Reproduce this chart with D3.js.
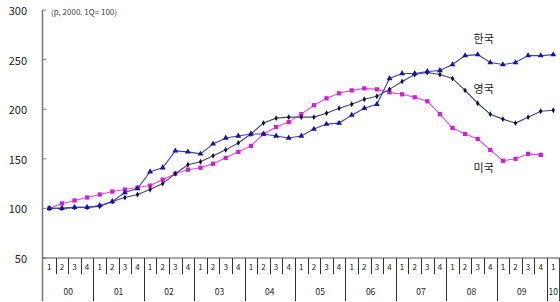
<!DOCTYPE html>
<html>
<head>
<meta charset="utf-8">
<script src="https://cdn.jsdelivr.net/npm/d3@7"></script>
<style>
  body { margin: 0; background: #fff; }
  svg { display: block; font-family: "Noto Sans CJK KR", "DejaVu Sans", sans-serif; }
</style>
</head>
<body>
<div id="chart"></div>
<script>
const years = ["00", "01", "02", "03", "04", "05", "06", "07", "08", "09", "10"];
const quarters = ["1", "2", "3", "4"];
const yTicks = [50, 100, 150, 200, 250, 300];

// index, 2000 Q1 = 100
const korea = [100, 100, 101, 101, 103, 107, 116, 120, 137, 141, 158, 157, 155, 165, 171, 173,
  175, 175, 173, 171, 173, 180, 185, 186, 194, 201, 205, 231, 236, 236, 238, 239,
  245, 254, 255, 247, 245, 247, 254, 254, 255];
const uk = [100, 100, 101, 101, 102, 107, 111, 114, 119, 125, 135, 144, 147, 153, 159, 166,
  175, 186, 191, 192, 192, 192, 196, 201, 205, 210, 213, 220, 228, 235, 237, 235,
  231, 219, 206, 195, 190, 186, 192, 198, 199];
const usa = [100, 105, 108, 111, 114, 117, 119, 121, 123, 129, 135, 139, 141, 145, 151, 157,
  163, 175, 182, 187, 195, 204, 211, 216, 219, 221, 220, 217, 215, 212, 208, 195,
  181, 175, 170, 159, 148, 150, 155, 154];

const COLORS = {
  korea: { line: "#4040b4", mark: "#1414a6" },
  uk: { line: "#46466e", mark: "#0c0c48" },
  usa: { line: "#e24ce2", mark: "#d21ed2" },
  axis: "#777",
  text: "#222",
};

const width = 560;
const height = 302;

// categories: 00-1 ... 10-1
const categories = [];
years.forEach((yr) => {
  quarters.forEach((q) => {
    if (yr === "10" && q !== "1") return;
    categories.push(yr + "-" + q);
  });
});

const x = d3.scaleBand().domain(categories).range([43, 559.6]).padding(0);
const y = d3.scaleLinear().domain([50, 300]).range([258, 10]);

const svg = d3
  .select("#chart")
  .append("svg")
  .attr("width", width)
  .attr("height", height);

const cx = (i) => x(categories[i]) + x.bandwidth() / 2;

// y axis
svg
  .append("line")
  .attr("x1", 42.5)
  .attr("x2", 42.5)
  .attr("y1", y(300))
  .attr("y2", 301)
  .style("stroke", COLORS.axis)
  .style("stroke-width", 1.5);

svg
  .selectAll(".ytick")
  .data(yTicks)
  .join("line")
  .attr("class", "ytick")
  .attr("x1", 42.5)
  .attr("x2", 46)
  .attr("y1", (d) => y(d))
  .attr("y2", (d) => y(d))
  .style("stroke", COLORS.axis)
  .style("stroke-width", 1);

svg
  .selectAll(".ylabel")
  .data(yTicks)
  .join("text")
  .attr("class", "ylabel")
  .attr("x", 27)
  .attr("y", (d) => y(d))
  .text((d) => d)
  .style("fill", COLORS.text)
  .style("font-size", "11px")
  .style("text-anchor", "end")
  .style("dominant-baseline", "central");

svg
  .append("text")
  .attr("x", 51)
  .attr("y", y(300) + 1)
  .text("(p, 2000. 1Q= 100)")
  .style("fill", "#444")
  .style("font-size", "8px")
  .style("dominant-baseline", "central");

// x axis
svg
  .append("line")
  .attr("x1", 42.5)
  .attr("x2", width)
  .attr("y1", y(50))
  .attr("y2", y(50))
  .style("stroke", "#555")
  .style("stroke-width", 1);

svg
  .selectAll(".xsep")
  .data(categories.slice(1).concat(["end"]))
  .join("line")
  .attr("class", "xsep")
  .attr("x1", (d) => (d === "end" ? 559.6 : Math.round(x(d)) + 0.5))
  .attr("x2", (d) => (d === "end" ? 559.6 : Math.round(x(d)) + 0.5))
  .attr("y1", y(50))
  .attr("y2", (d) => (d === "end" || d.endsWith("-1") ? 301 : 274))
  .style("stroke", "#333")
  .style("stroke-width", 1);

svg
  .selectAll(".qlabel")
  .data(categories)
  .join("text")
  .attr("class", "qlabel")
  .attr("x", (d) => x(d) + x.bandwidth() / 2)
  .attr("y", 266)
  .text((d) => d.split("-")[1])
  .style("fill", COLORS.text)
  .style("font-size", "8px")
  .style("text-anchor", "middle")
  .style("dominant-baseline", "central");

svg
  .selectAll(".yearlabel")
  .data(years)
  .join("text")
  .attr("class", "yearlabel")
  .attr("x", (d) => {
    const inYear = categories.filter((c) => c.startsWith(d + "-"));
    const first = x(inYear[0]);
    const last = x(inYear[inYear.length - 1]) + x.bandwidth();
    return (first + last) / 2;
  })
  .attr("y", 291)
  .text((d) => d)
  .style("fill", COLORS.text)
  .style("font-size", "8.5px")
  .style("text-anchor", "middle")
  .style("dominant-baseline", "central");

// series
const line = d3
  .line()
  .x((d, i) => cx(i))
  .y((d) => y(d));

function drawSeries(values, color, shape, size) {
  svg
    .append("path")
    .datum(values)
    .attr("d", line)
    .style("fill", "none")
    .style("stroke", color.line)
    .style("stroke-width", 1.1);

  svg
    .append("g")
    .selectAll("path")
    .data(values)
    .join("path")
    .attr("transform", (d, i) => `translate(${cx(i)},${y(d)})`)
    .attr("d", d3.symbol().type(shape).size(size))
    .style("fill", color.mark);
}

drawSeries(usa, COLORS.usa, d3.symbolSquare, 18);
drawSeries(uk, COLORS.uk, d3.symbolDiamond, 10);
drawSeries(korea, COLORS.korea, d3.symbolTriangle, 15);

// series labels
const labels = [
  { text: "한국", idx: 34, value: 272 },
  { text: "영국", idx: 34, value: 221 },
  { text: "미국", idx: 34, value: 142 },
];

svg
  .selectAll(".slabel")
  .data(labels)
  .join("text")
  .attr("class", "slabel")
  .attr("x", (d) => cx(d.idx) + 6)
  .attr("y", (d) => y(d.value))
  .text((d) => d.text)
  .style("fill", COLORS.text)
  .style("font-size", "11px")
  .style("text-anchor", "middle")
  .style("dominant-baseline", "central");
</script>
</body>
</html>
